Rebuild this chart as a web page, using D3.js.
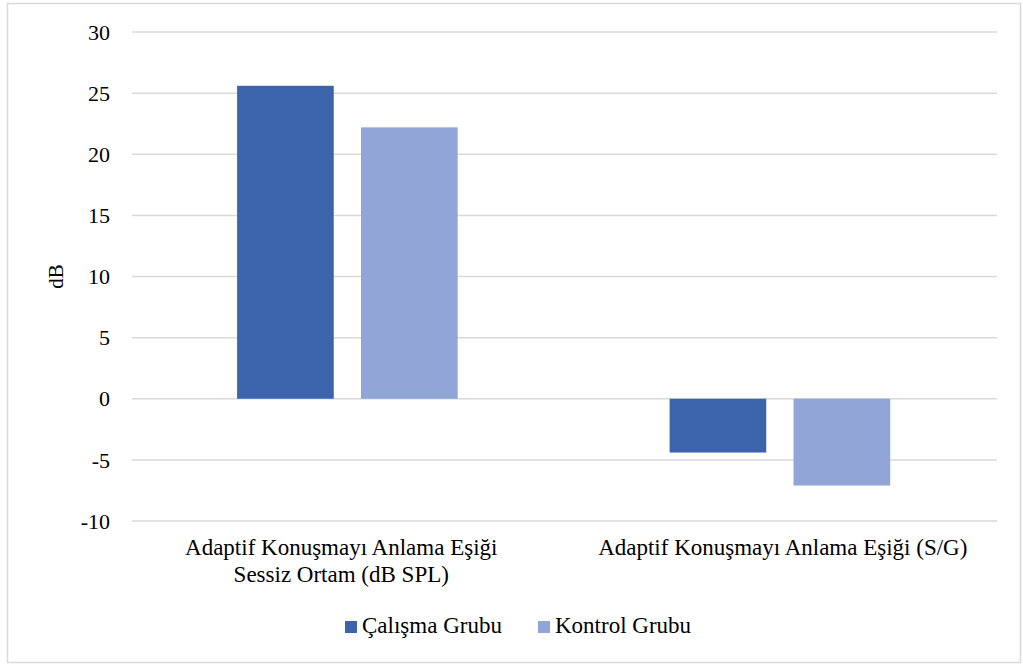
<!DOCTYPE html>
<html>
<head>
<meta charset="utf-8">
<script src="https://cdn.jsdelivr.net/npm/d3@7"></script>
<style>
  body { margin: 0; background: #fff; }
  svg { display: block; }
</style>
</head>
<body>
<div id="chart"></div>
<script>
const WIDTH  = 1023;
const HEIGHT = 664;
const FONT   = "'Liberation Serif', 'DejaVu Serif', serif";

const categories = [
  ["Adaptif Konuşmayı Anlama Eşiği", "Sessiz Ortam (dB SPL)"],
  ["Adaptif Konuşmayı Anlama Eşiği (S/G)"]
];
const seriesNames = ["Çalışma Grubu", "Kontrol Grubu"];
const calismaValues = [25.6, -4.4];
const kontrolValues = [22.2, -7.1];
const yTicks = [-10, -5, 0, 5, 10, 15, 20, 25, 30];
const colors = ["#3c64aa", "#91a5d6"];

const margin = { top: 32, right: 26, bottom: 143, left: 132 };
const plotW = WIDTH - margin.left - margin.right;
const plotH = HEIGHT - margin.top - margin.bottom;

const svg = d3.select("#chart").append("svg")
  .attr("width", WIDTH).attr("height", HEIGHT)
  .attr("font-family", FONT);

// outer frame
svg.append("rect")
  .attr("x", 7.5).attr("y", 3.5)
  .attr("width", WIDTH - 10).attr("height", HEIGHT - 5)
  .attr("fill", "#fff")
  .attr("stroke", "#d9d9d9").attr("stroke-width", 1.5);

const g = svg.append("g").attr("transform", `translate(${margin.left},${margin.top})`);

const y = d3.scaleLinear().domain([-10, 30]).range([plotH, 0]);
const x0 = d3.scaleBand().domain(d3.range(categories.length)).range([0, plotW]);
const x1 = d3.scaleBand().domain(d3.range(seriesNames.length))
  .range([x0.bandwidth() * 0.243, x0.bandwidth() * 0.753]).paddingInner(0.22);

// grid
g.append("g").selectAll("line").data(yTicks).join("line")
  .attr("x1", 0).attr("x2", plotW)
  .attr("y1", d => y(d)).attr("y2", d => y(d))
  .attr("stroke", "#d9d9d9").attr("stroke-width", 1.5);

// y axis labels
g.append("g").selectAll("text").data(yTicks).join("text")
  .attr("x", -22).attr("y", d => y(d))
  .attr("dy", "0.35em")
  .attr("text-anchor", "end")
  .attr("font-size", 22)
  .attr("fill", "#000")
  .text(d => d);

// y title
svg.append("text")
  .attr("transform", `translate(63,${margin.top + y(10)}) rotate(-90)`)
  .attr("text-anchor", "middle")
  .attr("font-size", 21)
  .attr("fill", "#000")
  .text("dB");

// bars
const series = [calismaValues, kontrolValues];
series.forEach((vals, s) => {
  g.append("g").selectAll("rect").data(vals).join("rect")
    .attr("x", (d, i) => x0(i) + x1(s))
    .attr("width", x1.bandwidth())
    .attr("y", d => y(Math.max(0, d)))
    .attr("height", d => Math.abs(y(d) - y(0)))
    .attr("fill", colors[s]);
});

// category labels
const catG = g.append("g");
categories.forEach((lines, i) => {
  const t = catG.append("text")
    .attr("text-anchor", "middle")
    .attr("font-size", 23)
    .attr("fill", "#000");
  lines.forEach((line, j) => {
    t.append("tspan")
      .attr("x", x0(i) + x0.bandwidth() / 2 - (lines.length > 1 ? 7 : -2))
      .attr("y", plotH + 34 + j * 27)
      .text(line);
  });
});

// legend
const legendItems = [
  { name: seriesNames[0], color: colors[0], x: 345 },
  { name: seriesNames[1], color: colors[1], x: 538 }
];
const leg = svg.append("g");
legendItems.forEach(d => {
  leg.append("rect")
    .attr("x", d.x).attr("y", 621)
    .attr("width", 12).attr("height", 12)
    .attr("fill", d.color);
  leg.append("text")
    .attr("x", d.x + 17).attr("y", 633)
    .attr("font-size", 23)
    .attr("fill", "#000")
    .text(d.name);
});
</script>
</body>
</html>
